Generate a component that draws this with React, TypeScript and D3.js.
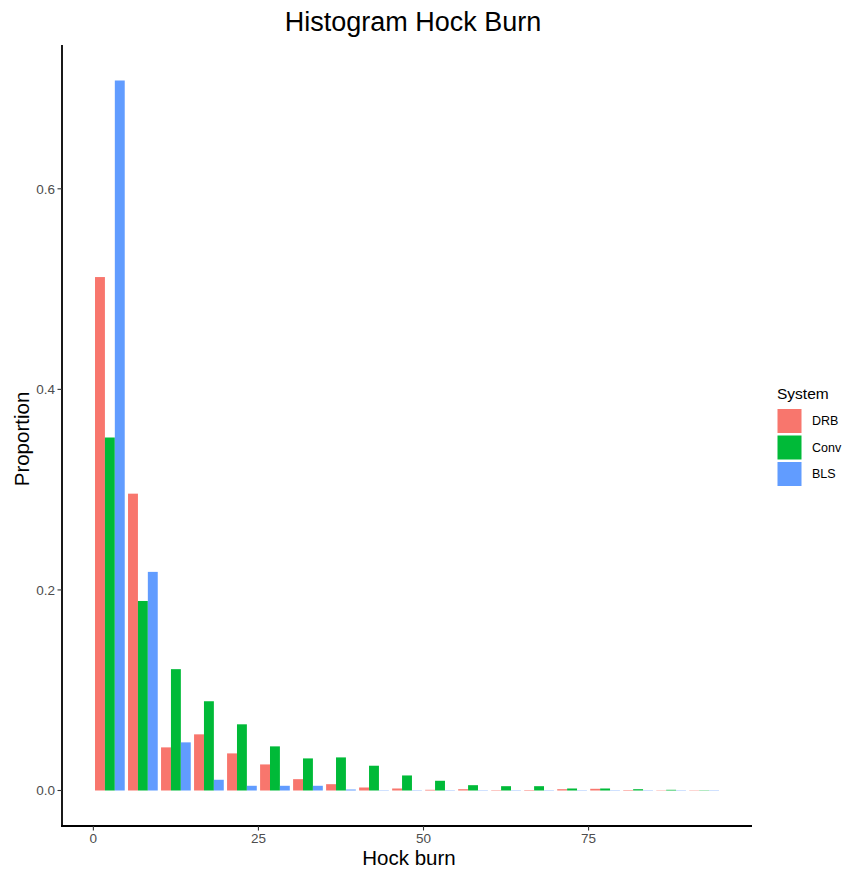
import React from "react";
import * as d3 from "d3";

const binStarts = [0, 5, 10, 15, 20, 25, 30, 35, 40, 45, 50, 55, 60, 65, 70, 75, 80, 85, 90];
const binWidth = 5;
const systems = ["DRB", "Conv", "BLS"];
const colors = ["#F8766D", "#00BA38", "#619CFF"];
const drb = [0.512, 0.296, 0.043, 0.056, 0.037, 0.026, 0.0113, 0.0063, 0.003, 0.002, 0.0007, 0.0013, 0.0004, 0.0005, 0.0013, 0.0017, 0.0005, 0.0003, 0.0003];
const conv = [0.352, 0.189, 0.121, 0.089, 0.066, 0.044, 0.032, 0.033, 0.0247, 0.015, 0.0097, 0.0053, 0.0043, 0.0043, 0.002, 0.002, 0.0013, 0.0007, 0.0003];
const bls = [0.708, 0.218, 0.048, 0.0107, 0.0047, 0.0047, 0.0047, 0.001, 0.0003, 0.0003, 0.0003, 0.0003, 0.0003, 0.0003, 0.0003, 0.0003, 0.0003, 0.0003, 0.0003];
const xTicks = [0, 25, 50, 75];
const yTicks = [0, 0.2, 0.4, 0.6];

export default function App() {
  const W = 843, H = 872;
  const left = 62, right = 752, top = 45, bottom = 826;
  const x = d3.scaleLinear().domain([-4.75, 99.75]).range([left, right]);
  const y = d3.scaleLinear().domain([-0.0354, 0.7434]).range([bottom, top]);
  const series = [drb, conv, bls];
  const groupW = binWidth * 0.9;
  const sub = d3.scaleBand().domain(systems).range([0, groupW]).padding(0);
  const font = "'Liberation Sans', Arial, sans-serif";
  return (
    <svg width={W} height={H} style={{ display: "block", position: "absolute", left: 0, top: 0 }} fontFamily={font}>
      <rect width={W} height={H} fill="#fff" />
      {binStarts.map((b, i) => {
        const gx0 = b + binWidth / 2 - groupW / 2;
        return systems.map((s, j) => {
          const v = series[j][i];
          const x0 = x(gx0 + (sub(s) as number));
          const x1 = x(gx0 + (sub(s) as number) + sub.bandwidth());
          return (
            <rect key={s + i} x={x0} y={y(v)} width={x1 - x0} height={y(0) - y(v)} fill={colors[j]} />
          );
        });
      })}
      {/* axes */}
      <line x1={left} x2={left} y1={top} y2={bottom + 0.9} stroke="#000" strokeWidth={1.8} />
      <line x1={left - 0.9} x2={right} y1={bottom} y2={bottom} stroke="#000" strokeWidth={1.8} />
      {yTicks.map((t) => (
        <g key={t}>
          <line x1={left - 4.5} x2={left} y1={y(t)} y2={y(t)} stroke="#333" strokeWidth={1.1} />
          <text x={left - 7} y={y(t)} dy="0.35em" textAnchor="end" fontSize={13.5} fill="#4D4D4D">
            {d3.format(".1f")(t)}
          </text>
        </g>
      ))}
      {xTicks.map((t) => (
        <g key={t}>
          <line x1={x(t)} x2={x(t)} y1={bottom} y2={bottom + 4.5} stroke="#333" strokeWidth={1.1} />
          <text x={x(t)} y={843} textAnchor="middle" fontSize={13.5} fill="#4D4D4D">
            {t}
          </text>
        </g>
      ))}
      <text x={413} y={31} textAnchor="middle" fontSize={27} fill="#000">Histogram Hock Burn</text>
      <text x={409} y={865} textAnchor="middle" fontSize={20.5} fill="#000">Hock burn</text>
      <text transform={`translate(29,439) rotate(-90)`} textAnchor="middle" fontSize={20.5} fill="#000">Proportion</text>
      {/* legend */}
      <text x={777} y={399} fontSize={15.5} fill="#000">System</text>
      {systems.map((s, j) => (
        <g key={s}>
          <rect x={777.5} y={409 + j * 26.5} width={24} height={24} fill={colors[j]} />
          <text x={812} y={421 + j * 26.5} dy="0.35em" fontSize={12.5} fill="#000">{s}</text>
        </g>
      ))}
    </svg>
  );
}
